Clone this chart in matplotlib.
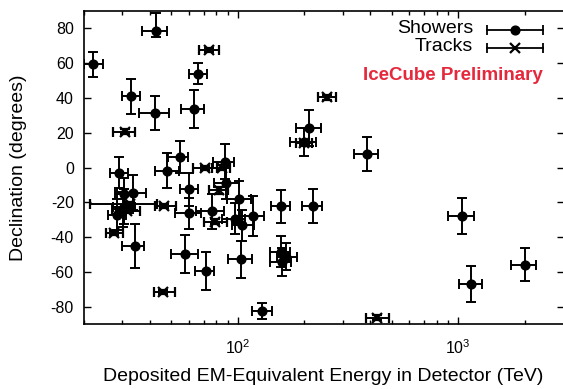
import numpy as np
import matplotlib
matplotlib.use("Agg")
import matplotlib.pyplot as plt
from matplotlib.lines import Line2D
from matplotlib.ticker import FixedLocator, FixedFormatter, LogLocator, NullFormatter

plt.rcParams['font.family'] = ['Liberation Sans', 'DejaVu Sans']
plt.rcParams['mathtext.default'] = 'regular'

# ---- Showers ----
sh_energy = [47.6, 117, 165, 28.4, 34.3, 63.2, 97.2, 88.4, 104, 1041, 57.5, 30.6, 200,
             71.5, 1141, 30.2, 220, 30.5, 33.5, 210, 60.2, 32.7, 129, 42.5, 385, 42.1,
             2004, 28.9, 101.3, 157.3, 87.6, 76.3, 158.0, 104.7, 59.9, 22.2, 66.2, 158.1, 54.5]
sh_e_lo = [5.4, 14.6, 14.9, 2.5, 4.3, 8.0, 12.4, 10.7, 13.2, 144, 7.8, 3.5, 27,
           7.2, 133, 3.3, 24, 2.6, 5.0, 26, 5.6, 2.9, 12.7, 5.7, 49, 6.3,
           262, 2.6, 11.6, 16.7, 10.0, 11.6, 16.6, 10.2, 7.9, 2.0, 6.1, 18.4, 6.3]
sh_e_hi = [6.5, 15, 19.8, 2.7, 3.5, 7.1, 10.4, 12.5, 12.5, 132, 8.3, 3.6, 27,
           7.0, 143, 3.5, 21, 3.2, 4.9, 29, 5.6, 3.2, 14, 5.4, 46, 6.5,
           236, 3.0, 13.3, 15.9, 8.4, 10.3, 15.3, 13.5, 8.3, 2.3, 6.7, 16.3, 5.1]
sh_dec = [-1.8, -28.0, -51.2, -27.2, -45.1, 33.6, -29.4, -8.9, -52.8, -27.9, -49.7, -22.6, 14.5,
          -59.7, -67.2, -24.0, -22.1, -15.1, -14.5, 22.7, -12.6, 41.0, -82.7, 78.3, 7.8, 31.3,
          -55.8, -3.0, -17.9, -48.5, 3.3, -25.3, -22.3, -33.2, -26.3, 59.3, 54.0, -54.2, 6.0]
sh_dec_lo = [10, 11.5, 8, 9, 12.5, 11, 9, 9, 10.5, 10.5, 11, 10, 8,
             11, 10.3, 10, 9.8, 9, 10, 10.6, 9.5, 10, 4.5, 3, 10, 10,
             9.5, 9, 10, 9, 10, 10, 9.5, 9, 9, 7, 6, 8, 9]
sh_dec_hi = [10, 11.5, 8, 9, 12.5, 11, 9, 9, 10.5, 10.5, 11, 10, 8,
             11, 10.3, 10, 9.8, 9, 10, 10.6, 9.5, 10, 4.5, 10.5, 10, 10,
             9.5, 9, 10, 9, 10, 10, 9.5, 9, 9, 7, 6, 8, 9]

# ---- Tracks ----
tr_energy = [78.7, 71.4, 32.6, 253, 31.5, 82.2, 46.1, 30.8, 200.5, 46.5, 84.6, 429.9, 74.3, 27.6]
tr_e_lo = [8.7, 9.0, 11.1, 22, 3.3, 8.4, 4.4, 3.5, 16.4, 4.5, 7.9, 49.1, 7.2, 2.2]
tr_e_hi = [10.8, 9.0, 10.3, 26, 4.6, 8.6, 5.7, 3.3, 16.4, 5.9, 7.4, 57.4, 8.3, 2.6]
tr_dec = [-31.2, -0.4, -21.2, 40.3, -24.8, -13.2, -71.5, 20.7, 14.0, -22.0, 0.0, -86.3, 67.4, -37.7]
tr_dec_err = [1.3, 1.2, 1.3, 1.2, 1.3, 1.9, 1.3, 1.2, 1.2, 1.2, 1.2, 1.2, 1.2, 1.2]

y_ticks = [-80, -60, -40, -20, 0, 20, 40, 60, 80]
x_major = [100, 1000]
x_major_labels = ['$10^2$', '$10^3$']

W, H = 563, 389
fig = plt.figure(figsize=(W / 100, H / 100), dpi=100)
L, R, T, B = 83.5, 563.5, 11, 324
ax = fig.add_axes([L / W, 1 - B / H, (R - L) / W, (B - T) / H])

eb_kw = dict(ecolor='black', elinewidth=1.4, capsize=3.6, capthick=1.4, linestyle='none')
ax.errorbar(sh_energy, sh_dec,
            xerr=[sh_e_lo, sh_e_hi], yerr=[sh_dec_lo, sh_dec_hi],
            fmt='o', color='black', markersize=6.3, **eb_kw)
ax.errorbar(tr_energy, tr_dec,
            xerr=[tr_e_lo, tr_e_hi], yerr=tr_dec_err,
            fmt='x', color='black', markersize=7.5, markeredgewidth=1.6, **eb_kw)

ax.set_xscale('log')
ax.set_xlim(20, 3000)
ax.set_ylim(-90, 90)
ax.xaxis.set_major_locator(FixedLocator(x_major))
ax.xaxis.set_major_formatter(FixedFormatter(x_major_labels))
ax.xaxis.set_minor_locator(LogLocator(base=10, subs=np.arange(2, 10)))
ax.xaxis.set_minor_formatter(NullFormatter())
ax.set_yticks(y_ticks)
ax.set_yticklabels([str(v) for v in y_ticks])

ax.tick_params(axis='both', which='major', direction='in', length=5, width=1.0,
               top=True, right=True, labelsize=11.5, pad=7, colors='black')
ax.tick_params(axis='x', which='major', pad=10)
ax.tick_params(axis='both', which='minor', direction='in', length=3, width=1.0,
               top=True, right=True)
ax.tick_params(axis='y', which='minor', left=False, right=False)
for s in ax.spines.values():
    s.set_linewidth(1.2)

ax.set_xlabel('Deposited EM-Equivalent Energy in Detector (TeV)', fontsize=14, labelpad=8)
ax.set_ylabel('Declination (degrees)', fontsize=14, labelpad=17)

# legend drawn manually (text right-aligned, sample on the right)
def ax_xy(px, py):
    return (px - L) / (R - L), (B - py) / (B - T)

for label, py, marker in [('Showers', 30, 'o'), ('Tracks', 48, 'x')]:
    tx, ty = ax_xy(473, py)
    ax.text(tx, ty + 0.006, label, transform=ax.transAxes, ha='right', va='center', fontsize=14)
    x0, _ = ax_xy(487, py)
    x1, _ = ax_xy(543, py)
    xm, _ = ax_xy(515, py)
    ax.add_line(Line2D([x0, x1], [ty, ty], transform=ax.transAxes, color='black', lw=1.3))
    ax.add_line(Line2D([x0, x1], [ty, ty], transform=ax.transAxes, color='black',
                       marker='|', markersize=7, markeredgewidth=1.3, linestyle='none'))
    if marker == 'o':
        ax.add_line(Line2D([xm], [ty], transform=ax.transAxes, color='black', marker='o',
                           markersize=6.3, linestyle='none'))
    else:
        ax.add_line(Line2D([xm], [ty], transform=ax.transAxes, color='black', marker='x',
                           markersize=7.5, markeredgewidth=1.6, linestyle='none'))

px, py = ax_xy(543, 75)
ax.text(px, py, 'IceCube Preliminary', transform=ax.transAxes, ha='right', va='center',
        fontsize=13.5, fontweight='bold', color='#e5283c')

fig.savefig('out.png', dpi=100)
